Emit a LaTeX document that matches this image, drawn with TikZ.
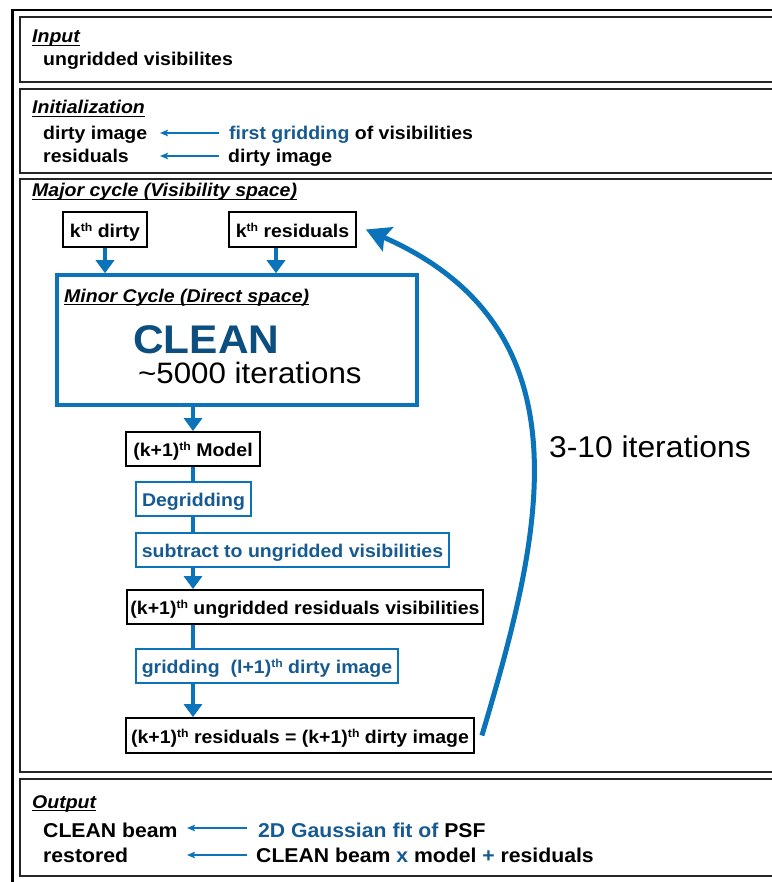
\documentclass[tikz,border=0pt]{standalone}
\usepackage{fontspec}
\setmainfont{Liberation Sans}[FakeStretch=1.06]
\usetikzlibrary{arrows.meta,calc}
\definecolor{lineblue}{RGB}{10,115,185}
\definecolor{txtblue}{RGB}{22,90,145}
\definecolor{cleanblue}{RGB}{12,78,128}
\newcommand\bodyfont{\fontsize{18.4}{20}\selectfont\bfseries}
\newcommand\thsup{\raisebox{6pt}{\fontsize{11.5}{12}\selectfont th}}
\tikzset{
  panel/.style={draw=black!85, line width=1.5pt},
  hdr/.style={anchor=base west, inner sep=0pt, font=\bodyfont\itshape},
  txt/.style={anchor=base west, inner sep=0pt, font=\bodyfont},
  otxt/.style={anchor=base west, inner sep=0pt, font=\fontsize{20}{22}\selectfont\bfseries},
  bbox/.style={draw=black, line width=1.8pt, inner sep=0pt, font=\bodyfont, text height=16.5pt, text depth=1pt, minimum height=34pt},
  blbox/.style={draw=lineblue, line width=1.5pt, inner sep=0pt, text=txtblue, font=\bodyfont, text height=16.5pt, text depth=1pt, minimum height=34pt},
  flow/.style={draw=lineblue, line width=4.5pt},
  flowarr/.style={flow, -{Triangle[length=13pt,width=18pt]}},
  smallarr/.style={draw=lineblue, line width=1.5pt, -{Stealth[length=8pt,width=6.5pt,inset=1.5pt]}},
  ulrule/.style={line width=1pt}
}
\newcommand\mkheading[3]{%
  \node[hdr] (#1) at (#2) {#3};
  \draw[ulrule] ([yshift=-2.5pt]#1.base west) -- ([yshift=-2.5pt]#1.base east);}
\begin{document}
\begin{tikzpicture}[x=1pt,y=-1pt]
\useasboundingbox (0,0) rectangle (771,882);
% frames
\draw[line width=2.6pt] (12.5,900) -- (12.5,10) -- (790,10);
\draw[panel] (790,17) -- (20,17) -- (20,82) -- (790,82);
\draw[panel] (790,89) -- (20,89) -- (20,173) -- (790,173);
\draw[panel] (790,179) -- (20,179) -- (20,772) -- (790,772);
\draw[panel] (790,779) -- (20,779) -- (20,876) -- (790,876);
% Input
\mkheading{hin}{32,43}{Input}
\node[txt] (ungv) at (43,66) {ungridded visibilites};
% Initialization
\mkheading{hinit}{32,114}{Initialization}
\node[txt] (di) at (43,140) {dirty image};
\node[txt] (res0) at (43,163) {residuals};
\node[txt] (fg) at (229,140) {\textcolor{txtblue}{first gridding} of visibilities};
\node[txt] (di2) at (228,163) {dirty image};
\draw[smallarr] (fg.base west) ++(-10,-7) -- ++(-59,0);
\draw[smallarr] (di2.base west) ++(-9,-7) -- ++(-59,0);
% Major cycle
\mkheading{hmaj}{32,197}{Major cycle (Visibility space)}
\node[bbox, minimum width=84pt, minimum height=35pt] (kdirty) at (105,229.5) {k\thsup\ dirty};
\node[bbox, minimum width=127pt, minimum height=35pt] (kres) at (292.5,229.5) {k\thsup\ residuals};
\node[draw=lineblue, line width=3.5pt, minimum width=360pt, minimum height=130pt, inner sep=0pt] (minor) at (237,340) {};
\mkheading{hmin}{64,302}{Minor Cycle (Direct space)}
\node[anchor=base west, inner sep=0pt, text=cleanblue, font=\fontsize{40}{44}\selectfont\bfseries] (clean) at (133,353) {CLEAN};
\node[anchor=base west, inner sep=0pt, font=\fontsize{29.5}{32}\selectfont] (k5000) at (138,383) {\textasciitilde 5000 iterations};
\node[bbox, minimum width=134pt] (model) at (193,449) {(k+1)\thsup\ Model};
\node[blbox, minimum width=115pt] (degrid) at (193.5,499) {Degridding};
\node[blbox, minimum width=313pt] (subtr) at (292.5,550) {subtract to ungridded visibilities};
\node[bbox, minimum width=356pt] (ungrid) at (305,607) {(k+1)\thsup\ ungridded residuals visibilities};
\node[blbox, minimum width=262pt] (grid) at (267,666) {gridding\ \ (l+1)\thsup\ dirty image};
\node[bbox, minimum width=348pt, minimum height=35pt] (resid) at (300,735.5) {(k+1)\thsup\ residuals = (k+1)\thsup\ dirty image};
% flow
\draw[flowarr] (kdirty.south) -- (kdirty.south |- minor.north);
\draw[flowarr] ([xshift=-16.5pt]kres.south) -- ([xshift=-16.5pt]kres.south |- minor.north);
\draw[flowarr] (minor.south -| model.north) -- (model.north);
\draw[flow] (model.south) -- (model.south |- degrid.north);
\draw[flow] (model.south |- degrid.south) -- (model.south |- subtr.north);
\draw[flowarr] (model.south |- subtr.south) -- (model.south |- ungrid.north);
\draw[flow] (model.south |- ungrid.south) -- (model.south |- grid.north);
\draw[flowarr] (model.south |- grid.south) -- (model.south |- resid.north);
% big loop
\draw[lineblue, line width=5pt, -{Stealth[length=24pt,width=26pt,inset=4pt]}]
  ([xshift=7pt]resid.east) .. controls (540,540) and (595,330) .. ([xshift=9pt]kres.east);
\node[anchor=base west, inner sep=0pt, font=\fontsize{30}{32}\selectfont] (iter) at (549,457) {3-10 iterations};
% Output
\mkheading{hout}{32,808}{Output}
\node[otxt] (cb) at (43,837) {CLEAN beam};
\node[otxt] (rest) at (43,862) {restored};
\node[otxt] (gf) at (258,837) {\textcolor{txtblue}{2D Gaussian fit of} PSF};
\node[otxt] (form) at (256,862) {CLEAN beam \textcolor{txtblue}{x} model \textcolor{txtblue}{+} residuals};
\draw[smallarr] (gf.base west) ++(-11,-9) -- ++(-60,0);
\draw[smallarr] (form.base west) ++(-9,-7) -- ++(-60,0);
\end{tikzpicture}
\end{document}
